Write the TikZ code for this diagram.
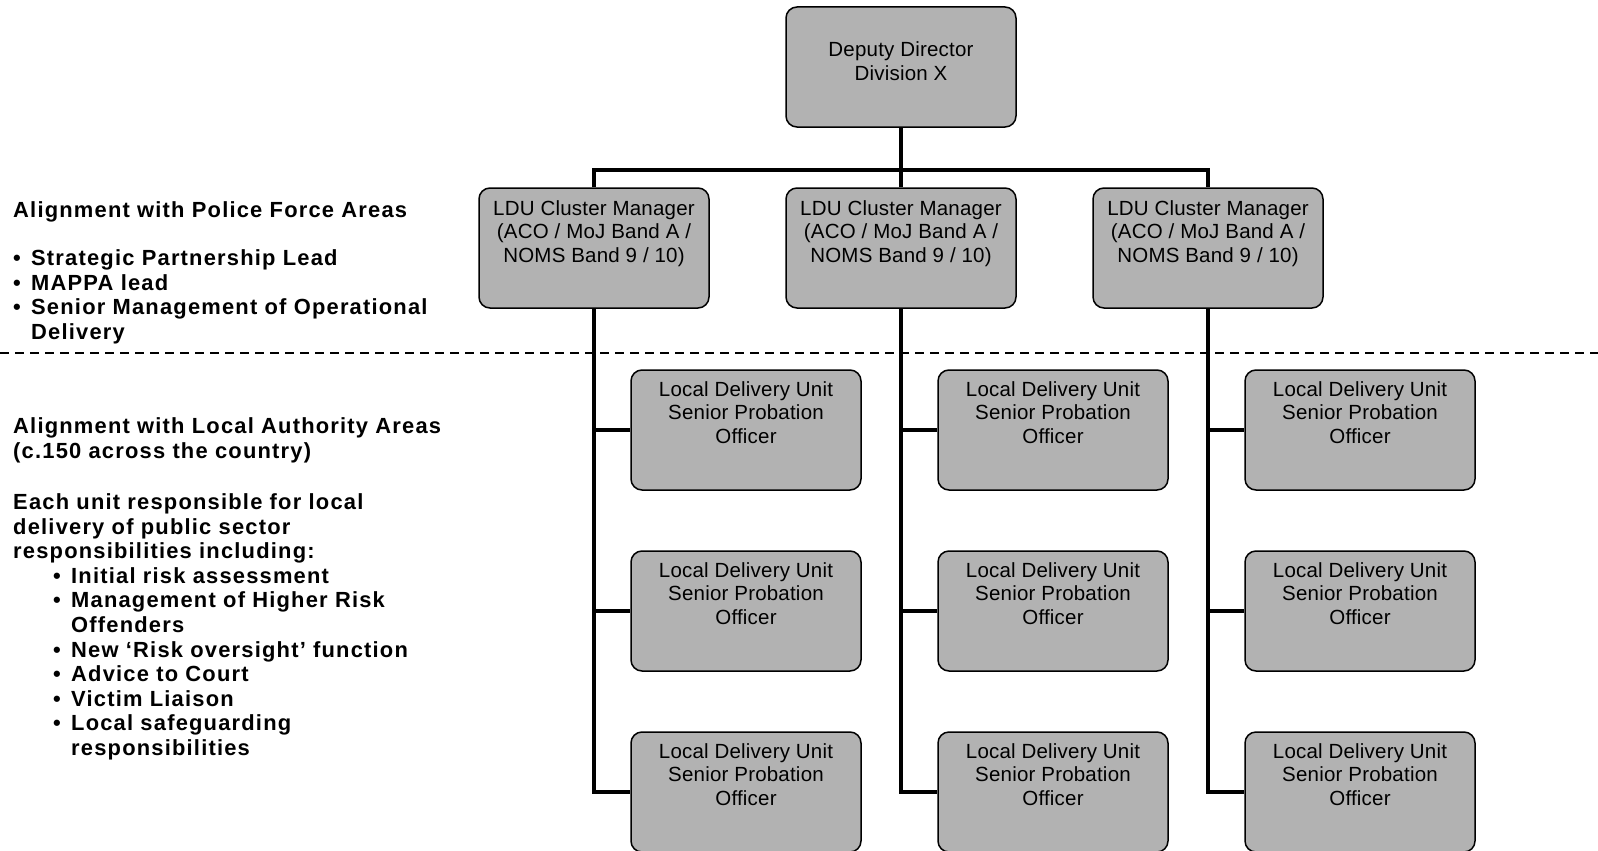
\documentclass[tikz,border=0pt]{standalone}
\usepackage{fontspec}
\setmainfont{Liberation Sans}
\newfontfamily\boxfont{Liberation Sans}[LetterSpace=1]
\newfontfamily\sidefont{Liberation Sans}[LetterSpace=5.5]
\definecolor{boxgray}{RGB}{178,178,178}
\newcommand{\btext}[3]{\parbox[c][#1][t]{226pt}{\centering\boxfont\fontsize{20.5pt}{23.8pt}\selectfont\rule{0pt}{#2}#3}}
\newcommand{\sbul}{\makebox[18pt][l]{\textbullet}}
\tikzset{
  orgbox/.style={draw=black, line width=1.5pt, fill=boxgray, rounded corners=11pt,
    inner sep=0pt, minimum width=230pt, minimum height=120pt},
  conn/.style={line width=4.8pt, line join=miter},
  sep/.style={line width=1.5pt, dash pattern=on 9pt off 6pt},
  side/.style={inner sep=0pt, anchor=base west, font=\sidefont\bfseries\fontsize{21.9pt}{24.6pt}\selectfont}
}
\begin{document}
\begin{tikzpicture}[x=1pt,y=-1pt]
\useasboundingbox (0,0) rectangle (1598,851);
% separator
\coordinate (dl) at (0,353);
\coordinate (dr) at (1598,353);
\draw[sep] (dl) -- (dr);

% boxes
\node[orgbox] (top) at (901,67) {\btext{120pt}{50pt}{Deputy Director\\Division X}};
\foreach \n/\x in {1/594, 2/901, 3/1208}{
  \node[orgbox] (c\n) at (\x,248) {\btext{120pt}{27pt}{LDU Cluster Manager\\(ACO / MoJ Band A /\\NOMS Band 9 / 10)}};
  \foreach \r/\y in {1/430, 2/611, 3/792}{
    \node[orgbox] (l\n\r) at (\x+152,\y) {\btext{120pt}{26pt}{Local Delivery Unit\\Senior Probation\\Officer}};
  }
}

% connectors
\coordinate (bus) at (901,170);
\draw[conn] (top.south) -- (c2.north);
\draw[conn] (c1.north) -- (c1.north |- bus) -- (c3.north |- bus) -- (c3.north);
\foreach \n in {1,2,3}{
  \draw[conn] (c\n.south) |- (l\n3.west);
  \draw[conn] (l\n1.west -| c\n.south) -- (l\n1.west);
  \draw[conn] (l\n2.west -| c\n.south) -- (l\n2.west);
}

% side texts
\node[side] (s1) at (13,217) {\parbox[t]{450pt}{\raggedright Alignment with Police Force Areas}};
\node[side] (s2) at (13,265.5) {\parbox[t]{450pt}{\raggedright
  \sbul Strategic Partnership Lead\\
  \sbul MAPPA lead\\
  \sbul Senior Management of Operational\\
  \hspace*{18pt}Delivery}};
\node[side] (s3) at (13,433.5) {\parbox[t]{450pt}{\raggedright
  Alignment with Local Authority Areas\\
  (c.150 across the country)}};
\node[side] (s4) at (13,509.5) {\parbox[t]{450pt}{\raggedright
  Each unit responsible for local\\
  delivery of public sector\\
  responsibilities including:\\
  \hspace*{40pt}\sbul Initial risk assessment\\
  \hspace*{40pt}\sbul Management of Higher Risk\\
  \hspace*{58pt}Offenders\\
  \hspace*{40pt}\sbul New ‘Risk oversight’ function\\
  \hspace*{40pt}\sbul Advice to Court\\
  \hspace*{40pt}\sbul Victim Liaison\\
  \hspace*{40pt}\sbul Local safeguarding\\
  \hspace*{58pt}responsibilities}};
\end{tikzpicture}
\end{document}
